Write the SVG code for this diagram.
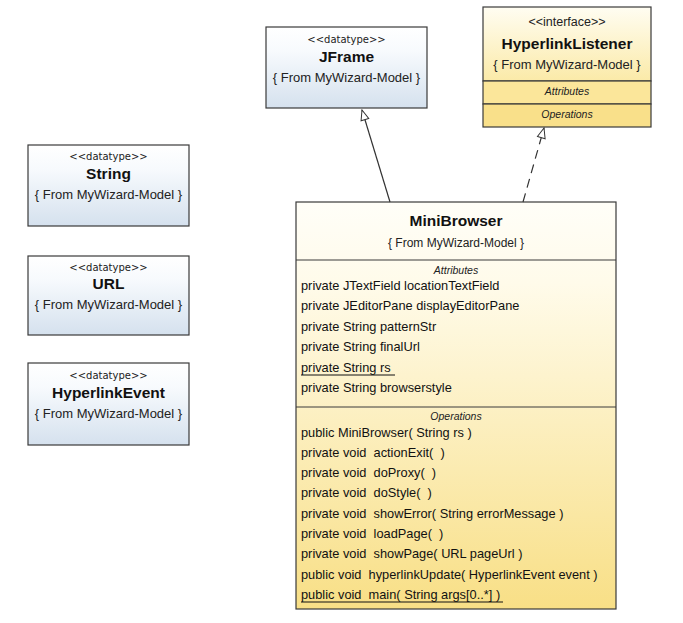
<svg xmlns="http://www.w3.org/2000/svg" width="683" height="623" viewBox="0 0 683 623">
<defs>
<linearGradient id="gBlue" x1="0" y1="0" x2="0" y2="1">
<stop offset="0" stop-color="#ffffff"/><stop offset="0.3" stop-color="#f7fafd"/><stop offset="1" stop-color="#d5e1ee"/>
</linearGradient>
<linearGradient id="gYel" x1="0" y1="0" x2="0" y2="1">
<stop offset="0" stop-color="#fffef8"/><stop offset="0.2" stop-color="#fffbea"/><stop offset="1" stop-color="#f8df86"/>
</linearGradient>
<linearGradient id="gHead" x1="0" y1="0" x2="0" y2="1">
<stop offset="0" stop-color="#fffdf2"/><stop offset="1" stop-color="#fbeaa8"/>
</linearGradient>
<marker id="tri" viewBox="0 0 12 10" refX="11" refY="5" markerWidth="12" markerHeight="10" markerUnits="userSpaceOnUse" orient="auto">
<path d="M1,1 L11,5 L1,9 Z" fill="#ffffff" stroke="#333" stroke-width="1"/>
</marker>
</defs>
<style>
.box{stroke:#3a3a3a;stroke-width:1.2}
.div{stroke:#3a3a3a;stroke-width:1}
.st{font-family:"DejaVu Sans",sans-serif;font-size:10px;fill:#222;text-anchor:middle}
.sti{font-family:"Liberation Sans",Arial,sans-serif;font-size:12.5px;fill:#222;text-anchor:middle}
.ti{font-family:"Liberation Sans",Arial,sans-serif;font-size:15.5px;font-weight:bold;fill:#111;text-anchor:middle}
.fr{font-family:"Liberation Sans",Arial,sans-serif;font-size:13px;fill:#222;text-anchor:middle}
.fr2{font-family:"Liberation Sans",Arial,sans-serif;font-size:12px;fill:#222;text-anchor:middle}
.cp{font-family:"Liberation Sans",Arial,sans-serif;font-size:10.5px;font-style:italic;fill:#222;text-anchor:middle}
.m{font-family:"Liberation Sans",Arial,sans-serif;font-size:12.8px;fill:#111;white-space:pre}
.ln{stroke:#333;stroke-width:1.2;fill:none}
</style>
<rect width="683" height="623" fill="#ffffff"/>

<g id="JFrame">
<rect class="box" x="266" y="27" width="161" height="81" fill="url(#gBlue)"/>
<text class="st" x="346.5" y="43">&lt;&lt;datatype&gt;&gt;</text>
<text class="ti" x="346.5" y="62">JFrame</text>
<text class="fr" x="346.5" y="82">{ From MyWizard-Model }</text>
</g>

<g id="HyperlinkListener">
<rect class="box" x="483" y="7" width="168" height="74" fill="url(#gHead)"/>
<rect class="box" x="483" y="81" width="168" height="23" fill="#fbe69a"/>
<rect class="box" x="483" y="104" width="168" height="23" fill="#f9e08a"/>
<text class="sti" x="567" y="26">&lt;&lt;interface&gt;&gt;</text>
<text class="ti" x="567" y="49">HyperlinkListener</text>
<text class="fr" x="567" y="69">{ From MyWizard-Model }</text>
<text class="cp" x="567" y="95">Attributes</text>
<text class="cp" x="567" y="118">Operations</text>
</g>

<g id="String">
<rect class="box" x="28" y="145" width="161" height="81" fill="url(#gBlue)"/>
<text class="st" x="108.5" y="160">&lt;&lt;datatype&gt;&gt;</text>
<text class="ti" x="108.5" y="179">String</text>
<text class="fr" x="108.5" y="199">{ From MyWizard-Model }</text>
</g>

<g id="URL">
<rect class="box" x="28" y="256" width="161" height="79" fill="url(#gBlue)"/>
<text class="st" x="108.5" y="271">&lt;&lt;datatype&gt;&gt;</text>
<text class="ti" x="108.5" y="289">URL</text>
<text class="fr" x="108.5" y="309">{ From MyWizard-Model }</text>
</g>

<g id="HyperlinkEvent">
<rect class="box" x="28" y="363" width="161" height="82" fill="url(#gBlue)"/>
<text class="st" x="108.5" y="379">&lt;&lt;datatype&gt;&gt;</text>
<text class="ti" x="108.5" y="398">HyperlinkEvent</text>
<text class="fr" x="108.5" y="418">{ From MyWizard-Model }</text>
</g>

<g id="MiniBrowser">
<rect class="box" x="296" y="202" width="320" height="407" fill="url(#gYel)"/>
<line class="div" x1="296" y1="260" x2="616" y2="260"/>
<line class="div" x1="296" y1="407" x2="616" y2="407"/>
<text class="ti" x="456" y="226">MiniBrowser</text>
<text class="fr2" x="456" y="247">{ From MyWizard-Model }</text>
<text class="cp" x="456" y="274">Attributes</text>
<text class="m" x="301" y="289.5">private JTextField locationTextField</text>
<text class="m" x="301" y="310">private JEditorPane displayEditorPane</text>
<text class="m" x="301" y="330.5">private String patternStr</text>
<text class="m" x="301" y="351">private String finalUrl</text>
<text class="m" x="301" y="371.5">private String rs </text>
<line x1="301" y1="375" x2="395" y2="375" stroke="#111" stroke-width="1"/>
<text class="m" x="301" y="392">private String browserstyle</text>
<text class="cp" x="456" y="420">Operations</text>
<text class="m" x="301" y="436.5">public MiniBrowser( String rs )</text>
<text class="m" x="301" y="456.8">private void  actionExit(  )</text>
<text class="m" x="301" y="477.1">private void  doProxy(  )</text>
<text class="m" x="301" y="497.4">private void  doStyle(  )</text>
<text class="m" x="301" y="517.7">private void  showError( String errorMessage )</text>
<text class="m" x="301" y="538">private void  loadPage(  )</text>
<text class="m" x="301" y="558.3">private void  showPage( URL pageUrl )</text>
<text class="m" x="301" y="578.6">public void  hyperlinkUpdate( HyperlinkEvent event )</text>
<text class="m" x="301" y="598.9">public void  main( String args[0..*] )</text>
<line x1="301" y1="602" x2="503" y2="602" stroke="#111" stroke-width="1"/>
</g>

<g id="connectors">
<line class="ln" x1="390" y1="202" x2="362" y2="110" marker-end="url(#tri)"/>
<line class="ln" x1="523" y1="202" x2="544" y2="128" stroke-dasharray="9,6" marker-end="url(#tri)"/>
</g>
</svg>
